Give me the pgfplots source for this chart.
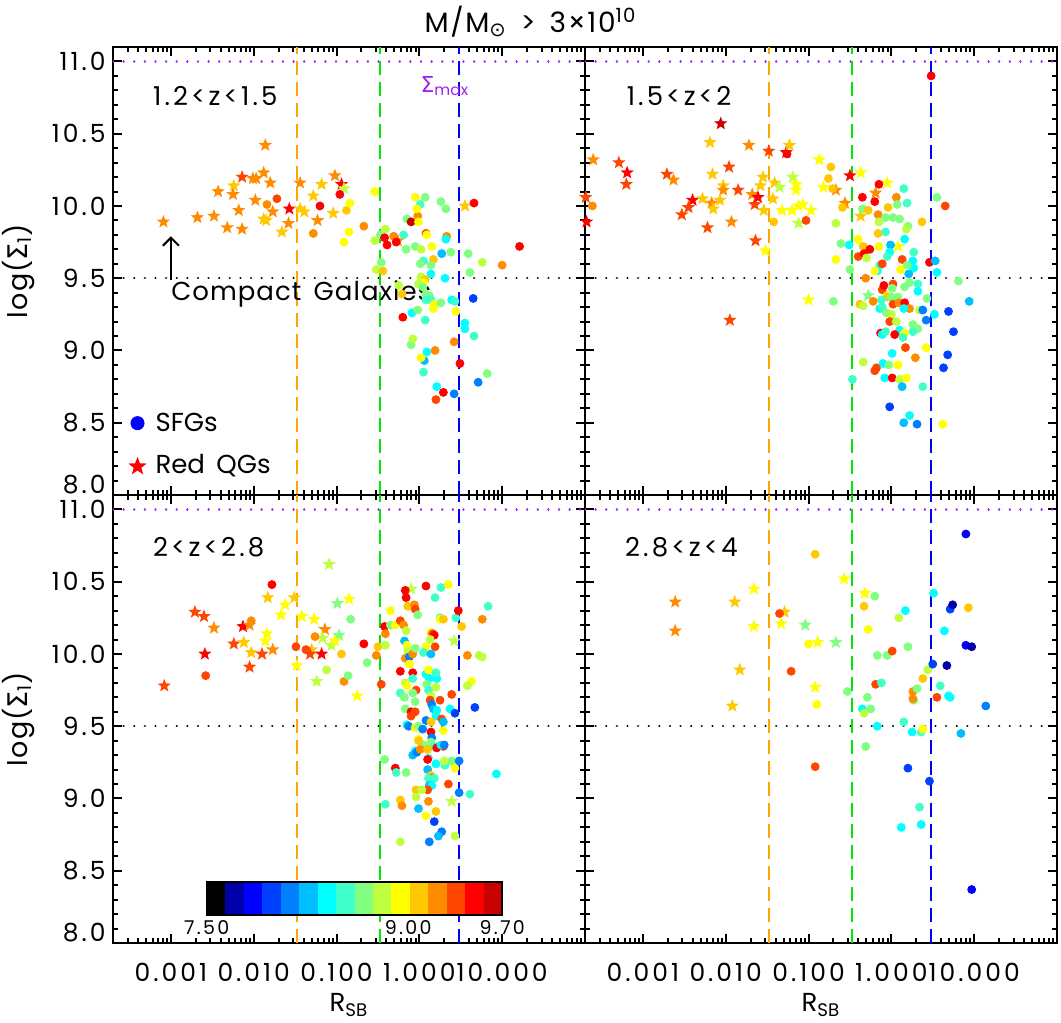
\documentclass[border=0pt]{standalone}
\usepackage{fontspec}
\setmainfont{Poppins}
\newfontfamily\numfont{Poppins}[LetterSpace=12]
\newfontfamily\titlefont{Poppins}[LetterSpace=6]
\newfontfamily\wordfont{Poppins}[LetterSpace=4]
\newfontfamily\dejavu{DejaVu Sans}
\usepackage{pgfplots}
\pgfplotsset{compat=1.18}
\usepackage{pgfplotstable}
\usetikzlibrary{arrows.meta}

% 16-step age colour table (log Age from 7.50 to 9.70)
\definecolor{c0}{RGB}{0,0,0}
\definecolor{c1}{RGB}{0,0,170}
\definecolor{c2}{RGB}{0,0,255}
\definecolor{c3}{RGB}{0,64,255}
\definecolor{c4}{RGB}{0,128,255}
\definecolor{c5}{RGB}{0,190,255}
\definecolor{c6}{RGB}{0,255,255}
\definecolor{c7}{RGB}{64,255,200}
\definecolor{c8}{RGB}{128,255,128}
\definecolor{c9}{RGB}{190,255,64}
\definecolor{c10}{RGB}{255,255,0}
\definecolor{c11}{RGB}{255,200,0}
\definecolor{c12}{RGB}{255,140,0}
\definecolor{c13}{RGB}{255,70,0}
\definecolor{c14}{RGB}{255,0,0}
\definecolor{c15}{RGB}{200,0,0}
\definecolor{lorange}{RGB}{255,165,0}
\definecolor{lgreen}{RGB}{0,230,0}
\definecolor{lpurple}{RGB}{160,32,240}

% filled five-pointed star
\pgfdeclareplotmark{fstar}{%
  \pgfpathmoveto{\pgfpointpolar{90}{\pgfplotmarksize}}%
  \pgfpathlineto{\pgfpointpolar{126}{0.42\pgfplotmarksize}}%
  \pgfpathlineto{\pgfpointpolar{162}{\pgfplotmarksize}}%
  \pgfpathlineto{\pgfpointpolar{198}{0.42\pgfplotmarksize}}%
  \pgfpathlineto{\pgfpointpolar{234}{\pgfplotmarksize}}%
  \pgfpathlineto{\pgfpointpolar{270}{0.42\pgfplotmarksize}}%
  \pgfpathlineto{\pgfpointpolar{306}{\pgfplotmarksize}}%
  \pgfpathlineto{\pgfpointpolar{342}{0.42\pgfplotmarksize}}%
  \pgfpathlineto{\pgfpointpolar{18}{\pgfplotmarksize}}%
  \pgfpathlineto{\pgfpointpolar{54}{0.42\pgfplotmarksize}}%
  \pgfpathclose
  \pgfusepathqfill}

% columns: log10(R_SB), log(Sigma_1), age class (0..15)
\pgfplotstableread{
x y c
-3.09 9.89 12
-2.68 9.92 12
-2.48 9.93 12
-2.32 9.85 12
-2.43 10.10 12
-2.24 10.14 11
-2.25 10.08 12
-2.14 10.20 13
-2.01 10.19 12
-1.97 10.19 12
-1.88 10.23 12
-1.86 10.42 12
-1.80 10.16 12
-1.98 10.04 12
-2.18 9.97 12
-2.14 9.84 12
-1.88 9.91 11
-1.85 9.90 11
-1.77 9.96 12
-1.66 9.82 11
-1.58 9.88 12
-1.57 9.98 14
-1.44 10.16 12
-1.44 9.98 11
-1.39 9.96 11
-1.23 9.90 12
-1.28 10.07 11
-1.18 10.15 11
-1.02 10.21 12
-1.04 9.95 11
-0.94 10.15 14
-0.91 10.12 9
0.55 10.00 11
-0.26 9.76 12
}\tlS
\pgfplotstableread{
x y c
-1.84 10.01 12
-1.72 10.05 13
-1.20 10.00 14
-1.28 9.81 12
-0.96 10.08 14
-0.88 9.97 11
-0.84 10.02 10
-0.85 9.82 10
-0.91 9.75 10
-0.67 9.86 12
-0.54 10.10 10
-0.54 9.76 9
-0.52 9.56 9
-0.46 9.61 8
-0.44 9.55 11
-0.47 9.80 8
-0.41 9.84 9
-0.42 9.78 14
-0.39 9.73 14
-0.31 9.79 12
-0.28 9.75 14
-0.19 9.80 7
-0.25 9.45 9
-0.21 9.39 11
-0.20 9.23 14
-0.16 9.70 8
-0.15 9.91 8
-0.10 9.89 15
-0.05 10.06 10
-0.02 9.93 12
-0.01 9.89 10
0.01 10.01 7
-0.03 9.98 10
0.07 10.06 8
0.08 9.81 13
0.09 9.80 10
-0.05 9.72 8
0.02 9.70 9
0.15 9.72 10
0.17 9.63 11
0.14 9.59 8
0.05 9.62 7
0.01 9.60 8
0.14 9.53 6
0.02 9.51 9
0.07 9.49 11
0.05 9.47 10
-0.01 9.46 9
0.04 9.44 8
0.08 9.39 8
0.12 9.38 8
0.08 9.35 7
0.14 9.35 7
0.18 9.32 10
0.26 9.33 8
0.17 9.29 10
0.26 10.03 8
0.32 9.98 8
0.33 9.79 12
0.32 9.77 6
0.27 9.67 5
0.38 9.68 8
0.31 9.50 6
0.39 9.35 6
0.43 9.34 7
0.44 9.27 10
0.42 9.06 12
0.49 8.91 14
0.42 8.70 4
0.29 8.71 14
0.20 8.66 13
0.21 8.75 6
0.19 9.00 12
0.09 8.99 6
0.06 8.93 5
0.02 8.95 10
0.05 8.85 7
0.07 9.21 7
-0.09 9.26 6
-0.02 9.28 8
-0.10 9.04 8
-0.08 9.08 9
0.55 9.19 6
0.55 9.15 6
0.66 9.10 7
0.65 9.36 3
0.71 8.78 4
0.82 8.84 8
0.59 9.67 8
0.61 9.54 8
0.66 10.02 14
0.76 9.61 9
1.00 9.59 12
1.21 9.72 14
}\tlD
\pgfplotstableread{
x y c
-3.60 10.32 12
-3.69 10.06 13
-3.68 9.89 14
-3.29 10.30 13
-3.19 10.23 14
-3.20 10.15 13
-2.71 10.22 13
-2.63 10.18 12
-2.40 10.04 14
-2.45 9.99 13
-2.53 9.94 13
-2.28 10.05 11
-2.19 10.44 11
-2.16 10.22 11
-2.06 10.57 15
-1.96 10.27 13
-2.03 10.14 11
-2.03 10.11 12
-2.17 10.02 12
-2.15 9.98 11
-2.07 10.04 11
-1.85 10.11 13
-1.93 9.89 12
-2.22 9.85 13
-1.72 10.42 12
-1.68 10.08 12
-1.65 10.01 13
-1.61 10.06 14
-1.64 9.76 13
-1.55 10.20 11
-1.58 10.14 11
-1.54 9.97 11
-1.52 9.69 10
-1.48 10.38 13
-1.41 10.16 11
-1.43 10.05 11
-1.35 10.13 9
-1.27 10.37 14
-1.23 10.42 11
-1.32 9.97 10
-1.19 10.20 9
-1.15 10.15 10
-1.15 10.11 10
-1.20 9.97 10
-1.12 10.00 10
-1.07 10.01 10
-1.12 9.88 9
-0.97 9.97 10
-0.87 10.32 10
-0.82 10.13 10
-0.67 10.11 12
-0.56 10.02 12
-0.50 10.21 14
-0.37 10.23 10
-0.37 9.93 11
-0.19 10.09 12
-0.05 10.16 10
0.08 9.72 10
-1.00 9.35 10
-0.28 9.38 8
-1.95 9.21 13
}\trS
\pgfplotstableread{
x y c
-3.61 10.00 12
-1.26 10.36 14
-1.42 9.89 11
-1.03 9.90 13
-0.73 10.27 11
-0.76 10.19 11
-0.71 10.12 11
-0.59 9.99 11
-0.67 9.88 9
-0.61 9.74 8
-0.67 9.63 10
-0.51 9.73 6
-0.50 9.56 8
-0.35 9.98 8
-0.35 10.06 14
-0.28 9.97 11
-0.20 10.03 14
-0.15 10.15 14
-0.16 9.94 12
0.06 10.06 12
0.07 10.01 8
0.19 10.02 7
0.15 10.12 7
-0.04 9.99 11
-0.15 9.89 9
-0.07 9.92 8
0.02 9.92 8
0.10 9.91 8
-0.16 9.81 11
-0.07 9.82 7
0.20 9.86 8
0.18 9.84 9
0.37 9.89 11
0.55 10.06 8
0.65 10.00 13
-0.40 9.77 10
-0.34 9.72 11
-0.40 9.65 13
-0.33 9.67 14
-0.26 9.70 14
-0.30 9.64 9
-0.15 9.72 10
-0.01 9.73 5
-0.02 9.68 6
-0.05 9.65 7
0.13 9.63 13
0.16 9.77 6
0.27 9.68 7
0.26 9.62 6
0.27 9.57 6
0.19 9.59 8
0.11 9.56 10
0.21 9.53 5
-0.14 9.59 7
-0.11 9.60 13
-0.17 9.55 6
-0.20 9.55 10
-0.31 9.50 12
0.46 9.61 14
0.53 9.62 5
0.55 9.54 6
0.81 9.48 8
-0.11 9.42 13
-0.09 9.45 14
0.02 9.46 13
0.01 9.43 8
0.16 9.44 8
0.22 9.47 8
0.32 9.46 7
0.32 9.41 6
-0.05 9.38 10
-0.05 9.37 11
0.00 9.37 8
0.08 9.37 8
-0.12 9.35 7
-0.22 9.34 12
-0.38 9.32 11
-0.34 9.31 9
-0.14 9.29 6
-0.11 9.30 7
0.02 9.32 13
0.09 9.33 12
0.16 9.33 14
0.22 9.29 12
0.15 9.29 6
0.34 9.28 9
0.43 9.36 8
0.38 9.28 4
0.42 9.21 4
0.52 9.25 6
0.69 9.27 3
0.94 9.34 5
0.75 9.13 3
0.68 8.97 3
0.63 8.88 3
-0.06 9.26 8
0.00 9.25 9
-0.02 9.20 13
0.06 9.20 9
0.26 9.18 8
0.32 9.15 8
0.26 9.13 7
0.10 9.14 6
0.16 9.12 10
0.04 9.11 14
-0.13 9.12 14
-0.11 9.11 6
-0.07 9.13 7
0.14 9.09 7
0.17 9.02 13
0.01 8.98 6
0.29 8.95 12
0.42 9.02 10
-0.34 8.92 9
-0.20 8.86 13
-0.18 8.88 13
-0.10 8.91 6
-0.03 8.90 8
0.08 8.90 10
-0.08 8.81 6
0.01 8.81 14
0.10 8.80 9
0.18 8.81 10
0.13 8.75 5
0.38 8.75 7
-0.47 8.80 7
-0.70 9.34 8
-0.02 8.61 3
0.22 8.55 6
0.15 8.50 5
0.31 8.49 4
0.62 8.49 10
0.48 10.90 14
}\trD
\pgfplotstableread{
x y c
-3.08 9.78 13
-2.71 10.29 13
-2.60 10.26 13
-2.59 10.00 14
-2.48 10.18 12
-2.24 10.07 13
-2.13 10.19 14
-2.05 10.20 12
-2.12 10.08 11
-2.03 10.01 11
-2.05 9.91 13
-1.90 10.00 13
-1.77 10.03 12
-1.86 10.09 10
-1.84 10.14 10
-1.83 10.39 11
-1.67 10.27 10
-1.62 10.34 10
-1.51 10.39 11
-1.48 9.92 10
-1.42 10.26 10
-1.27 10.24 10
-1.14 10.17 12
-1.24 9.81 9
-1.30 10.03 11
-1.17 10.11 9
-1.09 10.62 9
-0.99 10.35 8
-0.97 10.13 8
-1.06 10.06 9
-1.02 10.09 10
-0.85 10.38 10
-0.75 9.71 10
-1.18 10.00 14
-1.32 10.00 13
-0.10 10.45 9
0.42 10.09 9
0.39 8.98 9
}\blS
\pgfplotstableread{
x y c
-2.58 9.85 13
-2.03 10.23 12
-1.78 10.48 14
-1.49 10.05 13
-1.37 10.03 13
-1.26 10.12 12
-1.12 9.89 9
-0.94 10.00 11
-0.91 9.81 12
-0.86 9.85 8
-0.83 10.24 8
-0.67 10.07 14
-0.63 9.94 8
-0.52 9.99 12
-0.50 10.05 11
-0.46 9.79 13
-0.42 10.19 14
-0.41 10.14 12
-0.41 10.06 9
-0.42 9.27 8
-0.41 8.96 7
-0.35 10.20 8
-0.35 10.30 10
-0.29 10.20 10
-0.23 10.23 13
-0.19 10.20 12
-0.17 10.44 14
-0.16 10.39 14
-0.14 10.33 11
-0.16 10.16 9
-0.18 10.09 5
-0.15 10.06 10
-0.14 10.02 9
-0.17 9.97 12
-0.12 9.98 4
-0.08 10.00 12
-0.05 10.04 8
-0.12 9.93 10
-0.23 9.88 14
-0.08 9.87 14
-0.08 9.83 7
-0.17 9.80 9
-0.15 9.78 10
-0.04 9.75 13
-0.23 9.73 7
-0.18 9.70 8
-0.08 9.73 8
-0.05 9.67 8
-0.17 9.62 8
-0.10 9.60 14
-0.05 9.60 13
-0.10 9.57 13
-0.15 9.51 6
-0.13 9.50 4
-0.05 9.49 10
-0.01 9.50 8
0.04 9.48 4
0.08 9.54 4
0.08 10.47 14
-0.06 10.34 12
-0.05 10.31 13
-0.02 10.27 8
0.14 10.15 10
0.16 10.14 13
0.18 10.13 14
0.13 10.10 9
0.08 10.05 10
0.19 10.05 13
0.05 10.01 7
0.14 10.00 5
0.26 10.46 7
0.35 10.48 10
0.19 10.39 7
0.25 10.25 7
0.25 10.24 10
0.29 10.24 11
0.44 10.25 7
0.47 10.30 14
0.51 10.19 11
0.58 9.99 12
0.72 9.99 9
0.76 9.98 9
0.76 10.24 12
0.83 10.33 7
0.63 9.81 10
0.58 9.78 9
0.67 9.63 3
0.08 9.86 6
0.12 9.83 6
0.21 9.83 6
0.11 9.89 10
0.20 9.87 7
0.09 9.79 8
0.20 9.77 9
0.11 9.75 7
0.14 9.71 9
0.13 9.68 13
0.25 9.68 13
0.15 9.65 4
0.17 9.62 5
0.21 9.61 6
0.20 9.57 6
0.14 9.53 11
0.27 9.55 13
0.29 9.53 5
0.37 9.62 6
0.43 9.59 3
0.39 9.72 13
0.29 9.47 10
0.14 9.46 14
0.15 9.42 4
-0.01 9.41 10
0.14 9.39 8
0.18 9.36 7
0.21 9.35 14
0.29 9.36 13
0.26 9.37 6
0.30 9.37 4
0.05 9.37 8
-0.01 9.40 11
-0.05 9.33 6
-0.08 9.30 5
-0.03 9.32 4
0.01 9.34 12
0.10 9.34 11
0.11 9.28 7
0.10 9.27 14
0.20 9.24 6
0.10 9.20 5
0.31 9.23 7
0.39 9.26 8
0.30 9.26 9
0.43 9.21 10
0.48 9.26 4
-0.29 9.21 14
-0.28 9.18 7
-0.16 9.18 8
0.14 9.16 11
0.15 9.14 13
0.11 9.14 7
0.18 9.14 7
0.35 9.10 13
0.12 9.09 5
0.15 9.09 6
0.10 9.06 13
-0.04 9.06 11
0.03 9.06 9
0.48 9.04 4
0.61 9.03 7
0.93 9.17 6
-0.04 9.01 9
-0.23 8.99 11
-0.21 8.95 12
0.11 8.98 12
-0.01 8.93 5
0.08 8.88 10
0.20 8.91 11
0.18 8.84 3
0.27 8.77 4
0.23 8.74 5
0.12 8.70 4
0.43 8.74 9
-0.23 8.70 9
}\blD
\pgfplotstableread{
x y c
-2.61 10.36 12
-2.61 10.16 12
-1.89 10.36 11
-1.66 10.45 10
-1.66 10.19 10
-1.83 9.89 11
-1.92 9.64 11
-1.29 10.29 11
-1.33 10.21 10
-1.04 10.20 8
-0.89 10.08 10
-0.67 10.08 8
-0.92 9.77 10
-0.57 10.52 10
-0.32 10.42 10
}\brS
\pgfplotstableread{
x y c
-0.92 10.69 11
-1.35 10.28 13
-1.21 9.88 13
-1.00 10.07 10
-0.90 9.65 10
-0.92 9.22 13
-0.53 9.74 8
-0.33 10.33 11
-0.20 10.40 8
-0.28 10.17 10
-0.17 9.99 8
-0.05 9.99 8
0.01 10.02 13
-0.19 9.79 13
-0.12 9.80 7
-0.29 9.70 8
-0.35 9.62 6
-0.25 9.62 8
-0.33 9.59 9
-0.17 9.50 6
-0.31 9.36 8
0.09 10.25 9
0.17 10.30 6
0.20 10.05 8
0.15 9.53 7
0.25 9.46 6
0.36 9.46 7
0.38 9.48 10
0.27 9.68 8
0.26 9.69 12
0.26 9.74 12
0.31 9.76 8
0.38 9.83 11
0.44 9.89 9
0.50 9.93 3
0.51 10.42 6
0.59 9.78 7
0.67 9.92 1
0.55 9.70 13
0.64 10.16 6
0.71 10.31 3
0.74 10.34 1
0.69 9.71 6
0.71 9.70 6
0.90 10.83 2
0.93 10.32 11
0.90 10.06 2
0.97 10.05 1
1.14 9.64 4
0.84 9.45 5
0.20 9.21 3
0.46 9.12 3
0.34 8.94 7
0.36 8.82 6
0.12 8.80 6
0.97 8.37 2
}\brD

\tikzset{zlab/.style={anchor=west, font=\numfont\fontsize{13}{15}\selectfont}}

\pgfplotsset{
  panel/.style={
    scale only axis, width=236pt, height=224pt, anchor=south west,
    xmin=-3.69897, xmax=2, ymin=8, ymax=11.1,
    axis line style={line width=1.2pt},
    every tick/.style={black, line width=1pt},
    major tick length=4.5pt, minor tick length=2.5pt,
    xtick={-3,-2,-1,0,1},
    minor xtick={-3.52288,-3.39794,-3.30103,-3.22185,-3.15490,-3.09691,-3.04576,
      -2.69897,-2.52288,-2.39794,-2.30103,-2.22185,-2.15490,-2.09691,-2.04576,
      -1.69897,-1.52288,-1.39794,-1.30103,-1.22185,-1.15490,-1.09691,-1.04576,
      -0.69897,-0.52288,-0.39794,-0.30103,-0.22185,-0.15490,-0.09691,-0.04576,
      0.30103,0.47712,0.60206,0.69897,0.77815,0.84510,0.90309,0.95424,
      1.30103,1.47712,1.60206,1.69897,1.77815,1.84510,1.90309,1.95424},
    ytick={8,8.5,9,9.5,10,10.5,11},
    minor y tick num=4,
    xticklabels={}, yticklabels={},
    tick label style={font=\numfont\fontsize{12.5}{14}\selectfont},
    xticklabel style={anchor=base, yshift=-19.5pt},
    yticklabel style={anchor=east, inner sep=0pt, xshift=-3.5pt},
  },
  xlab/.style={xticklabels={0.001,0.010,0.100,1.000,10.000}},
  % the 8.0 label sits a little above its tick
  ylab/.style={yticklabels={,8.5,9.0,9.5,10.0,10.5,11.0},
    extra y ticks={8}, extra y tick labels={8.0},
    extra y tick style={yticklabel style={yshift=5pt}}},
  vline/.style={line width=1pt, dash pattern=on 7pt off 3.5pt},
  dotl/.style={line width=1.2pt, dash pattern=on 0.01pt off 5.3pt, line cap=round},
  ages/.style={only marks, scatter, scatter src=explicit symbolic,
    scatter/classes={0={c0},1={c1},2={c2},3={c3},4={c4},5={c5},6={c6},7={c7},
      8={c8},9={c9},10={c10},11={c11},12={c12},13={c13},14={c14},15={c15}}},
  dots/.style={ages, mark=*, mark size=2pt},
  stars/.style={ages, mark=fstar, mark size=3.5pt},
}

% reference lines: Sigma_max, compactness cut and the three R_SB cuts
\newcommand{\guides}{%
  \addplot[lpurple, dotl] coordinates {(-3.69897,11) (2,11)};
  \addplot[black, dotl] coordinates {(-3.69897,9.5) (2,9.5)};
  \addplot[lorange, vline] coordinates {(-1.4771,8) (-1.4771,11.1)};
  \addplot[lgreen, vline] coordinates {(-0.4771,8) (-0.4771,11.1)};
  \addplot[c2, vline] coordinates {(0.4771,8) (0.4771,11.1)};
}

\begin{document}
\begin{tikzpicture}
\path[use as bounding box] (0,0) rectangle (530.5pt,511.5pt);

% 1.2 < z < 1.5
\begin{axis}[panel, ylab, at={(56.5pt,264pt)}]
  \guides
  \addplot[stars] table[x=x,y=y,meta=c] {\tlS};
  \addplot[dots] table[x=x,y=y,meta=c] {\tlD};
  \addplot[only marks, mark=*, mark size=3.3pt, c2] coordinates {(-3.403,8.497)};
  \addplot[only marks, mark=fstar, mark size=4.8pt, c14] coordinates {(-3.403,8.197)};
  \node[zlab] at (-3.30,10.76) {1.2<z<1.5};
  \node[anchor=west, text=lpurple, font=\fontsize{11}{13}\selectfont, inner sep=0pt] at (0.01,10.83) {{\dejavu Σ}\textsubscript{max}};
  \node[anchor=west, font=\wordfont\fontsize{13}{15}\selectfont, inner sep=0pt] at (-3.0,9.39) {Compact\, Galaxies};
  \draw[-{Straight Barb[length=4pt,width=8pt]}, line width=1pt] (-3.0,9.49) -- (-3.0,9.79);
  \node[anchor=west, font=\fontsize{13}{15}\selectfont, inner sep=0pt] at (-3.19,8.50) {SFGs};
  \node[anchor=west, font=\fontsize{13}{15}\selectfont, inner sep=0pt] at (-3.19,8.20) {Red\, QGs};
\end{axis}

% 1.5 < z < 2
\begin{axis}[panel, at={(292.5pt,264pt)}]
  \guides
  \addplot[stars] table[x=x,y=y,meta=c] {\trS};
  \addplot[dots] table[x=x,y=y,meta=c] {\trD};
  \node[zlab] at (-3.28,10.76) {1.5<z<2};
\end{axis}

% 2 < z < 2.8
\begin{axis}[panel, xlab, ylab, at={(56.5pt,40pt)}]
  \guides
  \addplot[stars] table[x=x,y=y,meta=c] {\blS};
  \addplot[dots] table[x=x,y=y,meta=c] {\blD};
  \node[zlab] at (-3.30,10.74) {2<z<2.8};
\end{axis}

% 2.8 < z < 4
\begin{axis}[panel, xlab, at={(292.5pt,40pt)}]
  \guides
  \addplot[stars] table[x=x,y=y,meta=c] {\brS};
  \addplot[dots] table[x=x,y=y,meta=c] {\brD};
  \node[zlab] at (-3.30,10.74) {2.8<z<4};
\end{axis}

% age colour bar
\begin{axis}[at={(103.35pt,54pt)}, anchor=south west, scale only axis,
  width=147.8pt, height=16.5pt, xmin=7.5, xmax=9.7, ymin=0, ymax=1,
  axis on top, axis line style={line width=0.9pt},
  xtick={7.5,9,9.7}, xticklabels={7.50,9.00,9.70}, ytick=\empty,
  major tick length=0pt,
  xticklabel style={font=\numfont\fontsize{9.5}{11}\selectfont, anchor=base, yshift=-10pt}]
  \addplot[fill=c0, draw=none] coordinates {(7.5,1) (7.6375,1)} \closedcycle;
  \addplot[fill=c1, draw=none] coordinates {(7.6375,1) (7.775,1)} \closedcycle;
  \addplot[fill=c2, draw=none] coordinates {(7.775,1) (7.9125,1)} \closedcycle;
  \addplot[fill=c3, draw=none] coordinates {(7.9125,1) (8.05,1)} \closedcycle;
  \addplot[fill=c4, draw=none] coordinates {(8.05,1) (8.1875,1)} \closedcycle;
  \addplot[fill=c5, draw=none] coordinates {(8.1875,1) (8.325,1)} \closedcycle;
  \addplot[fill=c6, draw=none] coordinates {(8.325,1) (8.4625,1)} \closedcycle;
  \addplot[fill=c7, draw=none] coordinates {(8.4625,1) (8.6,1)} \closedcycle;
  \addplot[fill=c8, draw=none] coordinates {(8.6,1) (8.7375,1)} \closedcycle;
  \addplot[fill=c9, draw=none] coordinates {(8.7375,1) (8.875,1)} \closedcycle;
  \addplot[fill=c10, draw=none] coordinates {(8.875,1) (9.0125,1)} \closedcycle;
  \addplot[fill=c11, draw=none] coordinates {(9.0125,1) (9.15,1)} \closedcycle;
  \addplot[fill=c12, draw=none] coordinates {(9.15,1) (9.2875,1)} \closedcycle;
  \addplot[fill=c13, draw=none] coordinates {(9.2875,1) (9.425,1)} \closedcycle;
  \addplot[fill=c14, draw=none] coordinates {(9.425,1) (9.5625,1)} \closedcycle;
  \addplot[fill=c15, draw=none] coordinates {(9.5625,1) (9.7,1)} \closedcycle;
  \node[anchor=base, font=\fontsize{10}{11}\selectfont, inner sep=0pt] at (rel axis cs:0.49,1.18) {log(Age)};
\end{axis}

% title and axis labels
\node[anchor=base, font=\titlefont\fontsize{14}{16}\selectfont] at (265.25pt,495.2pt)
  {M/M\textsubscript{\dejavu ⊙}\, >\, 3×10\textsuperscript{10}};
\node[rotate=90, font=\wordfont\fontsize{13.5}{15}\selectfont] at (9.3pt,376pt) {log({\dejavu Σ}\textsubscript{1})};
\node[rotate=90, font=\wordfont\fontsize{13.5}{15}\selectfont] at (9.3pt,152pt) {log({\dejavu Σ}\textsubscript{1})};
\node[anchor=base, font=\fontsize{13}{15}\selectfont] at (174.5pt,5.5pt) {R\textsubscript{SB}};
\node[anchor=base, font=\fontsize{13}{15}\selectfont] at (410.5pt,5.5pt) {R\textsubscript{SB}};
\end{tikzpicture}
\end{document}
